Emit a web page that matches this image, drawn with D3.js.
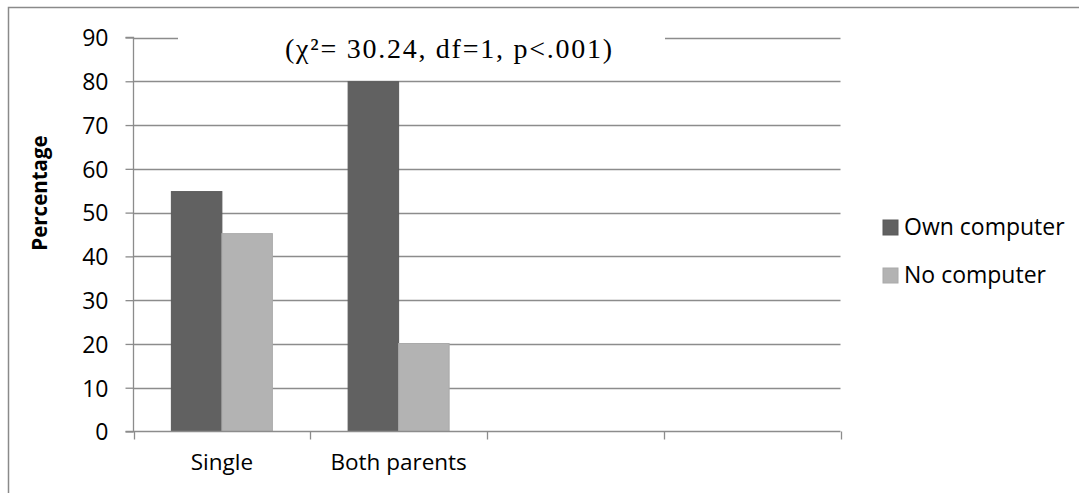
<!DOCTYPE html>
<html>
<head>
<meta charset="utf-8">
<script src="https://cdn.jsdelivr.net/npm/d3@7"></script>
<style>
  html, body { margin: 0; padding: 0; background: #fff; }
  svg { display: block; }
</style>
</head>
<body>
<svg id="chart" width="1079" height="493"></svg>
<script>
const categories = ["Single", "Both parents", "", ""];
const seriesNames = ["Own computer", "No computer"];
const ownComputer = [54.8, 79.9, null, null];
const noComputer = [45.2, 20.1, null, null];
const yTicks = [0, 10, 20, 30, 40, 50, 60, 70, 80, 90];
const titleText = "(χ²= 30.24, df=1, p<.001)";
const yLabel = "Percentage";

const colors = ["#616161", "#b3b3b3"];
const strokes = ["#5a5a5a", "#aaaaaa"];
const gridColor = "#8c8c8c";
const font = "'Open Sans', 'Noto Sans', sans-serif";

const svg = d3.select("#chart");

// outer chart border
svg.append("rect").attr("x", 8.5).attr("y", 7.5).attr("width", 1200).attr("height", 600)
  .attr("fill", "none").attr("stroke", "#8a8a8a").attr("stroke-width", 1.5);

const plot = { left: 133.5, right: 840.5, top: 37.5, bottom: 431.5 };

const x = d3.scaleBand().domain(d3.range(categories.length))
  .range([plot.left, plot.right]).paddingInner(0).paddingOuter(0);
const xSub = d3.scaleBand().domain([0, 1]).range([0, x.bandwidth()])
  .paddingInner(0).paddingOuter(0.75);
const y = d3.scaleLinear().domain([0, 90]).range([plot.bottom, plot.top]);

// gridlines
svg.append("g").selectAll("line").data(yTicks.filter(d => d > 0)).join("line")
  .attr("x1", plot.left).attr("x2", plot.right)
  .attr("y1", d => Math.round(y(d)) + 0.5).attr("y2", d => Math.round(y(d)) + 0.5)
  .attr("stroke", gridColor).attr("stroke-width", 1.3);

// bars
const series = [ownComputer, noComputer];
const barG = svg.append("g");
series.forEach((vals, si) => {
  barG.selectAll(null).data(vals.map((v, i) => ({ v, i })).filter(d => d.v != null)).join("rect")
    .attr("x", d => x(d.i) + xSub(si))
    .attr("width", xSub.bandwidth())
    .attr("y", d => y(d.v))
    .attr("height", d => y(0) - y(d.v))
    .attr("fill", colors[si])
    .attr("stroke", strokes[si]).attr("stroke-width", 1);
});

// y axis
const yAxis = d3.axisLeft(y).tickValues(yTicks).tickSize(8).tickPadding(17).tickFormat(d3.format("d"));
const yg = svg.append("g").attr("transform", `translate(${plot.left},0)`).call(yAxis);
yg.select(".domain").attr("stroke", gridColor).attr("stroke-width", 1.3).attr("d", `M-8,${plot.top}H0V${plot.bottom}H-8`);
yg.selectAll(".tick line").attr("stroke", gridColor).attr("stroke-width", 1.3);
yg.selectAll(".tick text").attr("font-family", font).attr("font-size", 23).attr("fill", "#000").attr("dy", "0.36em");

// x axis
const xLine = svg.append("g");
xLine.append("line").attr("x1", plot.left).attr("x2", plot.right)
  .attr("y1", plot.bottom).attr("y2", plot.bottom).attr("stroke", gridColor).attr("stroke-width", 1.3);
const xTickPos = d3.range(categories.length + 1).map(i => i < categories.length ? x(i) : x(categories.length - 1) + x.bandwidth());
xLine.selectAll(null).data(xTickPos).join("line")
  .attr("x1", d => Math.round(d) + 0.5).attr("x2", d => Math.round(d) + 0.5)
  .attr("y1", plot.bottom).attr("y2", plot.bottom + 8)
  .attr("stroke", gridColor).attr("stroke-width", 1.3);
xLine.selectAll(null).data(categories.map((c, i) => ({ c, i })).filter(d => d.c)).join("text")
  .attr("x", d => x(d.i) + x.bandwidth() / 2)
  .attr("y", 470)
  .attr("text-anchor", "middle")
  .attr("font-family", font).attr("font-size", 22.5).attr("fill", "#000")
  .text(d => d.c);

// y label
svg.append("text")
  .attr("transform", "translate(47,193) rotate(-90)")
  .attr("text-anchor", "middle")
  .attr("font-family", font).attr("font-size", 20.5).attr("font-weight", "bold").attr("fill", "#000")
  .text(yLabel);

// title with white background
svg.append("rect").attr("x", 178).attr("y", 26).attr("width", 487).attr("height", 44).attr("fill", "#fff");
svg.append("text")
  .attr("x", 285).attr("y", 58)
  .attr("textLength", 327).attr("lengthAdjust", "spacing")
  .attr("font-family", "'Liberation Serif', 'DejaVu Serif', serif").attr("font-size", 28).attr("fill", "#000")
  .text(titleText);

// legend
const legend = svg.append("g");
seriesNames.forEach((name, i) => {
  const ly = 220 + i * 48;
  legend.append("rect").attr("x", 883).attr("y", ly).attr("width", 15).attr("height", 15)
    .attr("fill", colors[i]).attr("stroke", strokes[i]).attr("stroke-width", 1);
  legend.append("text").attr("x", 904).attr("y", ly + 15)
    .attr("font-family", font).attr("font-size", 23).attr("fill", "#000").text(name);
});
</script>
</body>
</html>
